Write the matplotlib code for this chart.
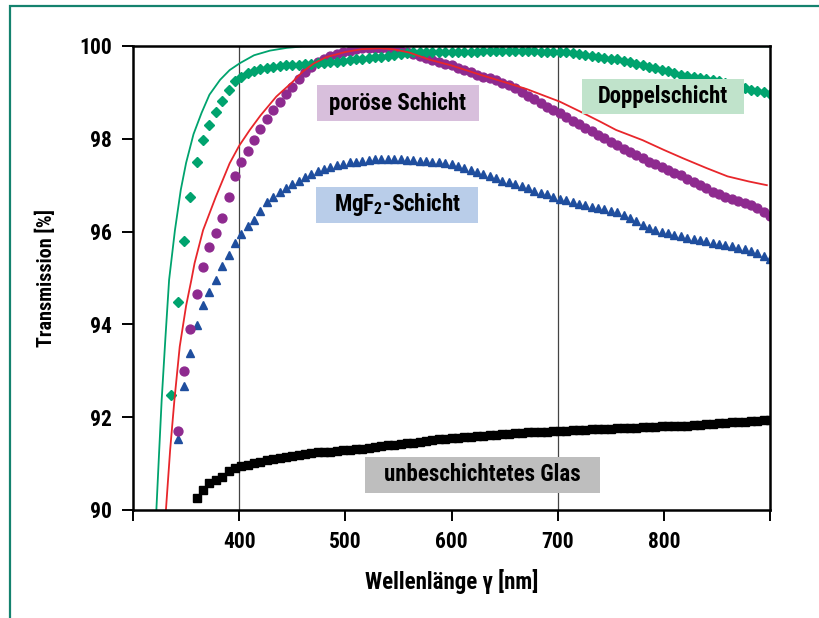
import numpy as np
import matplotlib
matplotlib.use('Agg')
import matplotlib.pyplot as plt
from matplotlib import font_manager
from matplotlib.patches import Rectangle

# schmale Schrift suchen, sonst DejaVu Sans
namen = {f.name for f in font_manager.fontManager.ttflist}
schmal = [n for n in ['Liberation Sans Narrow', 'Roboto Condensed', 'Open Sans Condensed',
                      'DejaVu Sans Condensed'] if n in namen]
plt.rcParams['font.family'] = schmal + ['DejaVu Sans']
plt.rcParams['font.stretch'] = 'condensed'
plt.rcParams['font.weight'] = 'bold'
haupt = (schmal + ['DejaVu Sans'])[0]
plt.rcParams['mathtext.fontset'] = 'custom'
plt.rcParams['mathtext.rm'] = haupt + ':bold'
plt.rcParams['mathtext.bf'] = haupt + ':bold'
plt.rcParams['mathtext.default'] = 'bf'

# Messraster der Punktreihen (nm)
wl_doppel = np.arange(336, 901, 6)
wl_poroes = np.arange(342, 901, 6)
wl_mgf2 = np.arange(342, 901, 6)
wl_glas = np.arange(360, 901, 6)

# Doppelschicht (Messung, Rauten)
t_doppel = [92.48, 94.48, 95.80, 96.75, 97.50, 97.97, 98.30, 98.57, 98.82, 99.05,
            99.25, 99.34, 99.42, 99.47, 99.50, 99.53, 99.55, 99.56, 99.58, 99.59,
            99.60, 99.61, 99.62, 99.63, 99.64, 99.65, 99.66, 99.67, 99.69, 99.71,
            99.73, 99.75, 99.76, 99.77, 99.79, 99.81, 99.82, 99.84, 99.86, 99.87,
            99.87, 99.88, 99.88, 99.88, 99.88, 99.88, 99.88, 99.88, 99.88, 99.89,
            99.89, 99.89, 99.89, 99.89, 99.89, 99.89, 99.89, 99.89, 99.88, 99.88,
            99.87, 99.87, 99.86, 99.84, 99.82, 99.80, 99.78, 99.76, 99.74, 99.73,
            99.71, 99.68, 99.65, 99.62, 99.58, 99.55, 99.52, 99.48, 99.45, 99.41,
            99.38, 99.36, 99.34, 99.31, 99.29, 99.27, 99.25, 99.21, 99.17, 99.13,
            99.09, 99.05, 99.03, 99.00, 98.97]

# poröse Schicht (Kreise)
t_poroes = [91.70, 93.00, 93.90, 94.65, 95.24, 95.66, 95.98, 96.29, 96.75, 97.20,
            97.49, 97.74, 97.97, 98.22, 98.42, 98.62, 98.80, 98.97, 99.12, 99.28,
            99.43, 99.55, 99.65, 99.72, 99.78, 99.83, 99.87, 99.90, 99.93, 99.95,
            99.96, 99.96, 99.96, 99.95, 99.93, 99.90, 99.86, 99.82, 99.78, 99.74,
            99.70, 99.66, 99.62, 99.58, 99.53, 99.48, 99.43, 99.38, 99.34, 99.30,
            99.26, 99.21, 99.15, 99.09, 99.01, 98.93, 98.85, 98.77, 98.69, 98.62,
            98.55, 98.47, 98.39, 98.31, 98.24, 98.16, 98.09, 98.02, 97.94, 97.86,
            97.79, 97.72, 97.65, 97.58, 97.51, 97.45, 97.39, 97.33, 97.27, 97.21,
            97.14, 97.07, 97.00, 96.93, 96.86, 96.80, 96.75, 96.70, 96.66, 96.62,
            96.57, 96.50, 96.42, 96.34]

# MgF2-Schicht (Dreiecke)
t_mgf2 = [91.52, 92.67, 93.39, 93.99, 94.42, 94.69, 94.96, 95.25, 95.50, 95.76,
          95.95, 96.12, 96.25, 96.45, 96.63, 96.75, 96.85, 96.93, 97.02, 97.10,
          97.17, 97.24, 97.31, 97.35, 97.39, 97.43, 97.46, 97.49, 97.51, 97.53,
          97.55, 97.56, 97.57, 97.57, 97.57, 97.56, 97.55, 97.54, 97.53, 97.52,
          97.50, 97.49, 97.47, 97.45, 97.41, 97.37, 97.33, 97.29, 97.25, 97.20,
          97.15, 97.10, 97.06, 97.02, 96.98, 96.93, 96.88, 96.84, 96.80, 96.75,
          96.71, 96.67, 96.63, 96.60, 96.57, 96.54, 96.51, 96.48, 96.45, 96.42,
          96.36, 96.29, 96.22, 96.15, 96.08, 96.03, 95.99, 95.96, 95.93, 95.90,
          95.87, 95.84, 95.81, 95.79, 95.76, 95.74, 95.71, 95.68, 95.65, 95.62,
          95.58, 95.53, 95.47, 95.40]

# unbeschichtetes Glas (Quadrate)
t_glas = [90.25, 90.43, 90.58, 90.64, 90.72, 90.83, 90.90, 90.95, 90.98, 91.01,
          91.04, 91.07, 91.09, 91.12, 91.14, 91.16, 91.18, 91.20, 91.22, 91.24,
          91.25, 91.26, 91.28, 91.29, 91.30, 91.31, 91.32, 91.33, 91.35, 91.37,
          91.39, 91.41, 91.42, 91.44, 91.45, 91.46, 91.48, 91.50, 91.52, 91.53,
          91.55, 91.56, 91.57, 91.58, 91.59, 91.60, 91.61, 91.62, 91.63, 91.64,
          91.65, 91.66, 91.67, 91.68, 91.68, 91.69, 91.70, 91.70, 91.71, 91.72,
          91.73, 91.73, 91.74, 91.74, 91.75, 91.75, 91.76, 91.76, 91.77, 91.77,
          91.78, 91.78, 91.79, 91.80, 91.80, 91.81, 91.82, 91.82, 91.83, 91.84,
          91.85, 91.86, 91.87, 91.88, 91.89, 91.90, 91.90, 91.91, 91.92, 91.93,
          91.94]

# Rechnung Doppelschicht (grüne Linie)
wl_gruen = [322, 324.5, 327, 330.5, 334, 339.5, 345, 350, 357, 364.6, 372, 382,
            391, 400.7, 414, 429, 445, 460, 500, 600, 700, 800, 900]
t_gruen = [90.0, 91.2, 92.37, 93.7, 94.96, 96.03, 96.9, 97.48, 98.1, 98.56, 98.95,
           99.27, 99.48, 99.63, 99.8, 99.9, 99.96, 99.99, 100.0, 100.0, 100.0, 99.99, 99.99]

# Rechnung poröse Schicht (rote Linie)
wl_rot = [331, 335, 339, 344, 350, 355, 358, 366, 378, 391, 400, 410, 420, 435,
          450, 460, 470, 482, 500, 515, 532, 545, 560, 580, 600, 627, 650, 671,
          702, 720, 740, 755, 780, 800, 818, 840, 860, 880, 897]
t_rot = [90.0, 91.3, 92.37, 93.52, 94.4, 94.96, 95.32, 96.03, 96.75, 97.47, 97.85,
         98.19, 98.5, 98.91, 99.22, 99.45, 99.62, 99.76, 99.87, 99.93, 99.95, 99.93,
         99.86, 99.70, 99.58, 99.38, 99.22, 99.07, 98.80, 98.60, 98.37, 98.19, 97.97,
         97.76, 97.58, 97.37, 97.19, 97.08, 97.00]

labels = ['poröse Schicht', 'Doppelschicht', 'MgF$_2$-Schicht', 'unbeschichtetes Glas']

c_gruen = '#00a36e'
c_lila = '#8e2a8f'
c_blau = '#1f4e9e'
c_rot = '#e8262b'

fig = plt.figure(figsize=(8.19, 6.18), dpi=100)
ax = fig.add_axes([0.1624, 0.1748, 0.7778, 0.7508])

# Rahmen
fig.patches.append(Rectangle((10 / 819, -0.2), 1.2, 1.2 - 6 / 618, transform=fig.transFigure,
                             fill=False, edgecolor='#14826e', linewidth=1.6, clip_on=False))

ax.axvline(400, color='#444444', lw=0.9, zorder=1)
ax.axvline(700, color='#444444', lw=0.9, zorder=1)

ax.plot(wl_glas, t_glas, 's', color='black', ms=5.2, zorder=3)
ax.plot(wl_mgf2, t_mgf2, '^', color=c_blau, ms=5.8, mec=c_blau, zorder=3)
ax.plot(wl_poroes, t_poroes, 'o', color=c_lila, ms=6.4, mec=c_lila, zorder=3)
ax.plot(wl_doppel, t_doppel, 'D', color=c_gruen, ms=4.6, mec=c_gruen, zorder=3)
ax.plot(wl_rot, t_rot, '-', color=c_rot, lw=1.3, zorder=4)
ax.plot(wl_gruen, t_gruen, '-', color=c_gruen, lw=1.3, zorder=4)

# Beschriftungsfelder
boxes = [(473, 98.38, 152.8, 0.78, '#d8bfdc'),
         (723, 98.53, 152.3, 0.76, '#c0e3cb'),
         (472.3, 96.19, 153, 0.78, '#b9cde9'),
         (518.5, 90.37, 221.2, 0.78, '#bebebe')]
for (x0, y0, w, h, fc), txt in zip(boxes, labels):
    ax.add_patch(Rectangle((x0, y0), w, h, facecolor=fc, edgecolor='none', zorder=5))
    ax.text(x0 + w / 2, y0 + h / 2, txt, ha='center', va='center', fontsize=16.5,
            fontweight='bold', color='black', zorder=6)

ax.set_xlim(300, 900)
ax.set_ylim(90, 100)
ax.set_xticks(range(300, 901, 100))
ax.set_xticklabels(['', '400', '500', '600', '700', '800', ''])
ax.set_yticks(range(90, 101, 2))
ax.tick_params(direction='out', length=8, width=1.4, labelsize=15.5, pad=7)
for s in ax.spines.values():
    s.set_linewidth(1.8)
    s.set_zorder(10)

ax.set_xlabel('Wellenlänge γ [nm]', fontsize=16.5, fontweight='bold', labelpad=12)
ax.set_ylabel('Transmission [%]', fontsize=14.5, fontweight='bold', labelpad=17)

fig.savefig('out.png', dpi=100)
